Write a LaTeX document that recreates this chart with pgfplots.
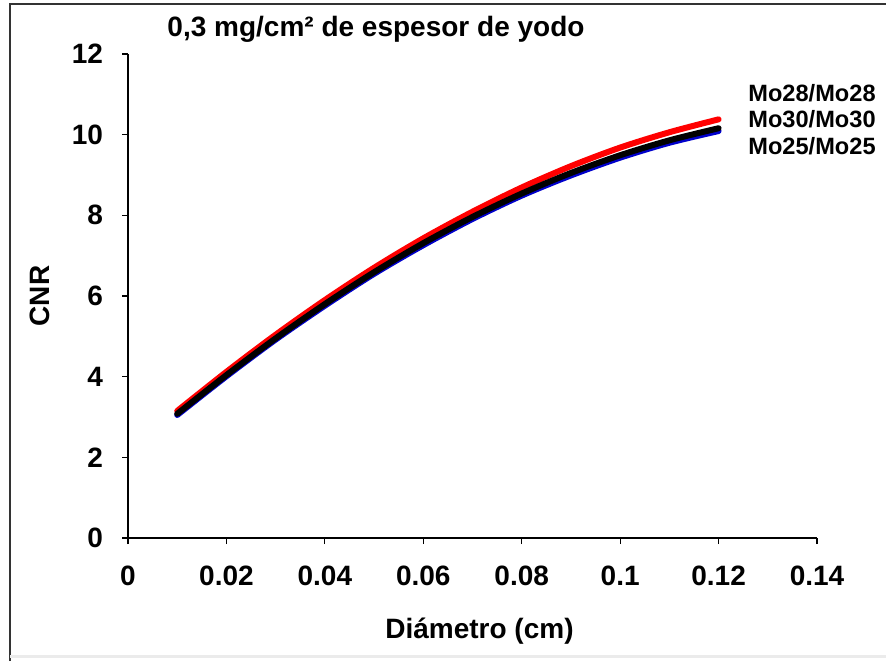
\documentclass[border=0pt]{standalone}
\usepackage{fontspec}
\setmainfont{Liberation Sans}
\usepackage{pgfplots}
\pgfplotsset{compat=1.18}

% CNR versus detail diameter for three anode/filter combinations
\pgfplotstableread{
d     cnr
0.01  3.15
0.02  4.12
0.03  5.04
0.04  5.90
0.05  6.70
0.06  7.43
0.07  8.09
0.08  8.69
0.09  9.22
0.10  9.68
0.11  10.06
0.12  10.38
}\moTwentyEight
\pgfplotstableread{
d     cnr
0.01  3.08
0.02  4.04
0.03  4.95
0.04  5.80
0.05  6.59
0.06  7.31
0.07  7.96
0.08  8.54
0.09  9.05
0.10  9.49
0.11  9.86
0.12  10.16
}\moThirty
\pgfplotstableread{
d     cnr
0.01  3.05
0.02  4.01
0.03  4.92
0.04  5.76
0.05  6.55
0.06  7.26
0.07  7.91
0.08  8.49
0.09  8.99
0.10  9.43
0.11  9.80
0.12  10.09
}\moTwentyFive

\begin{document}
\begin{tikzpicture}[x=0.5pt,y=-0.5pt,font=\fontsize{14}{16}\selectfont\bfseries]
\path[use as bounding box] (0,0) rectangle (886,661);
% frame
\draw[line width=1pt, black!80] (10,661) -- (10,4) -- (886,4);
\draw[line width=1.5pt, black!8] (10,656) -- (886,656);

\begin{axis}[
  at={(64pt,-269pt)}, anchor=south west,
  scale only axis, width=344.5pt, height=242pt,
  xmin=0, xmax=0.14, ymin=0, ymax=12,
  axis x line*=bottom, axis y line*=left,
  axis line style={line width=0.8pt, black},
  xtick={0,0.02,0.04,0.06,0.08,0.1,0.12,0.14},
  xticklabels={0,0.02,0.04,0.06,0.08,0.1,0.12,0.14},
  ytick={0,2,4,6,8,10,12},
  tick align=outside, major tick length=3pt,
  tick style={line width=0.6pt, black},
  ticklabel style={font=\fontsize{14}{16}\selectfont\bfseries},
  /pgf/number format/assume math mode=true,
  xticklabel style={yshift=-7.5pt},
  yticklabel style={xshift=-6pt},
  clip=false,
]
\addplot[red, line width=3pt, line cap=round, smooth] table[x=d,y=cnr] {\moTwentyEight};
\addplot[blue!80!black, line width=3pt, line cap=round, smooth] table[x=d,y=cnr] {\moTwentyFive};
\addplot[black, line width=3pt, line cap=round, smooth] table[x=d,y=cnr] {\moThirty};
\end{axis}

\node[anchor=base] at (376,36) {0,3 mg/cm² de espesor de yodo};
\node[rotate=90] at (40,296) {CNR};
\node[anchor=base] at (479.5,638) {Diámetro (cm)};
\begin{scope}[font=\fontsize{11.8}{14}\selectfont\bfseries]
\node[anchor=base west, inner sep=0] at (748,101.5) {Mo28/Mo28};
\node[anchor=base west, inner sep=0] at (748,127.5) {Mo30/Mo30};
\node[anchor=base west, inner sep=0] at (748,154.5) {Mo25/Mo25};
\end{scope}
\end{tikzpicture}
\end{document}
